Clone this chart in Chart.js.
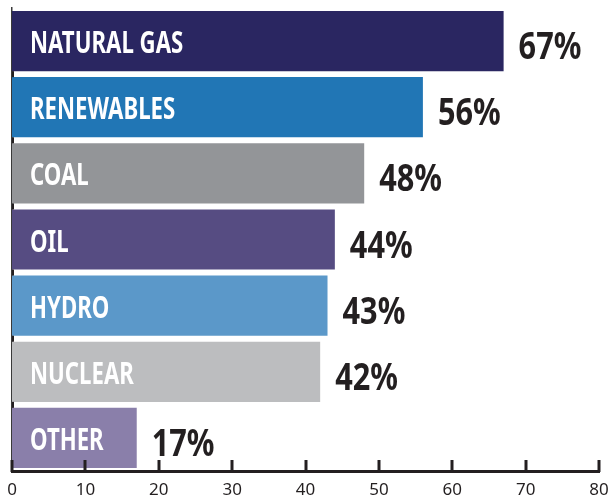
<!DOCTYPE html>
<html>
<head>
<meta charset="utf-8">
<script src="https://cdn.jsdelivr.net/npm/chart.js@4"></script>
<style>
  html, body { margin: 0; padding: 0; background: #fff; }
  #wrap { width: 611px; height: 497px; }
</style>
</head>
<body>
<div id="wrap"><canvas id="energyChart"></canvas></div>
<script>
const categories = ['NATURAL GAS', 'RENEWABLES', 'COAL', 'OIL', 'HYDRO', 'NUCLEAR', 'OTHER'];
const shares = [67, 56, 48, 44, 43, 42, 17];
const barColors = ['#2a2661', '#2176b5', '#939598', '#564c82', '#5b98c9', '#bcbdbf', '#8a7faa'];
const tickValues = [0, 10, 20, 30, 40, 50, 60, 70, 80];

const FONT = '"Noto Sans", "Open Sans", sans-serif';

// draw text squeezed horizontally to fake a condensed face
function narrowText(ctx, text, x, y, squeeze) {
    ctx.save();
    ctx.translate(x, y);
    ctx.scale(squeeze, 1);
    ctx.fillText(text, 0, 0);
    ctx.restore();
}

// names inside bars, percentages after bar ends, tick marks pointing up
const barText = {
    id: 'barText',
    afterDatasetsDraw(chart) {
        const ctx = chart.ctx;
        const meta = chart.getDatasetMeta(0);
        const area = chart.chartArea;
        ctx.save();
        ctx.textBaseline = 'alphabetic';
        ctx.textAlign = 'left';
        meta.data.forEach((bar, i) => {
            ctx.fillStyle = '#ffffff';
            ctx.font = 'bold 30px ' + FONT;
            narrowText(ctx, categories[i], bar.base + 18, bar.y + 12, 0.74);
            ctx.fillStyle = '#231f20';
            ctx.font = 'bold 37px ' + FONT;
            narrowText(ctx, shares[i] + '%', bar.x + 15, bar.y + 18, 0.83);
        });
        // small stubs on the left axis between bars
        ctx.fillStyle = '#231f20';
        for (let i = 0; i < meta.data.length - 1; i++) {
            const gapY = (meta.data[i].y + meta.data[i + 1].y) / 2;
            ctx.fillRect(area.left, gapY - 3, 2, 6);
        }
        const xs = chart.scales.x;
        ctx.strokeStyle = '#231f20';
        ctx.lineWidth = 3;
        tickValues.forEach(v => {
            const px = Math.round(xs.getPixelForValue(v));
            ctx.beginPath();
            ctx.moveTo(px, area.bottom + 1);
            ctx.lineTo(px, area.bottom - 11);
            ctx.stroke();
        });
        ctx.restore();
    }
};

new Chart(document.getElementById('energyChart'), {
    type: 'bar',
    data: {
        labels: categories,
        datasets: [{
            data: shares,
            backgroundColor: barColors,
            barPercentage: 0.91,
            categoryPercentage: 1.0
        }]
    },
    options: {
        indexAxis: 'y',
        responsive: true,
        maintainAspectRatio: false,
        animation: false,
        layout: {
            padding: { left: 12, right: 12, top: 8, bottom: 0 }
        },
        plugins: {
            legend: { display: false },
            tooltip: { enabled: false }
        },
        scales: {
            x: {
                min: 0,
                max: 80,
                afterBuildTicks(scale) {
                    scale.ticks = tickValues.map(v => ({ value: v }));
                },
                afterFit(scale) {
                    scale.height = 26;
                    scale.paddingLeft = 0;
                    scale.paddingRight = 0;
                },
                grid: { display: false, drawTicks: false },
                border: { display: true, color: '#231f20', width: 3 },
                ticks: {
                    color: '#231f20',
                    font: { family: FONT, size: 17 },
                    padding: 9,
                    maxRotation: 0
                }
            },
            y: {
                afterFit(scale) {
                    scale.width = 0;
                },
                grid: { display: false, drawTicks: false },
                border: { display: true, color: '#3a3a3a', width: 1.5 },
                ticks: { display: false }
            }
        }
    },
    plugins: [barText]
});
</script>
</body>
</html>
